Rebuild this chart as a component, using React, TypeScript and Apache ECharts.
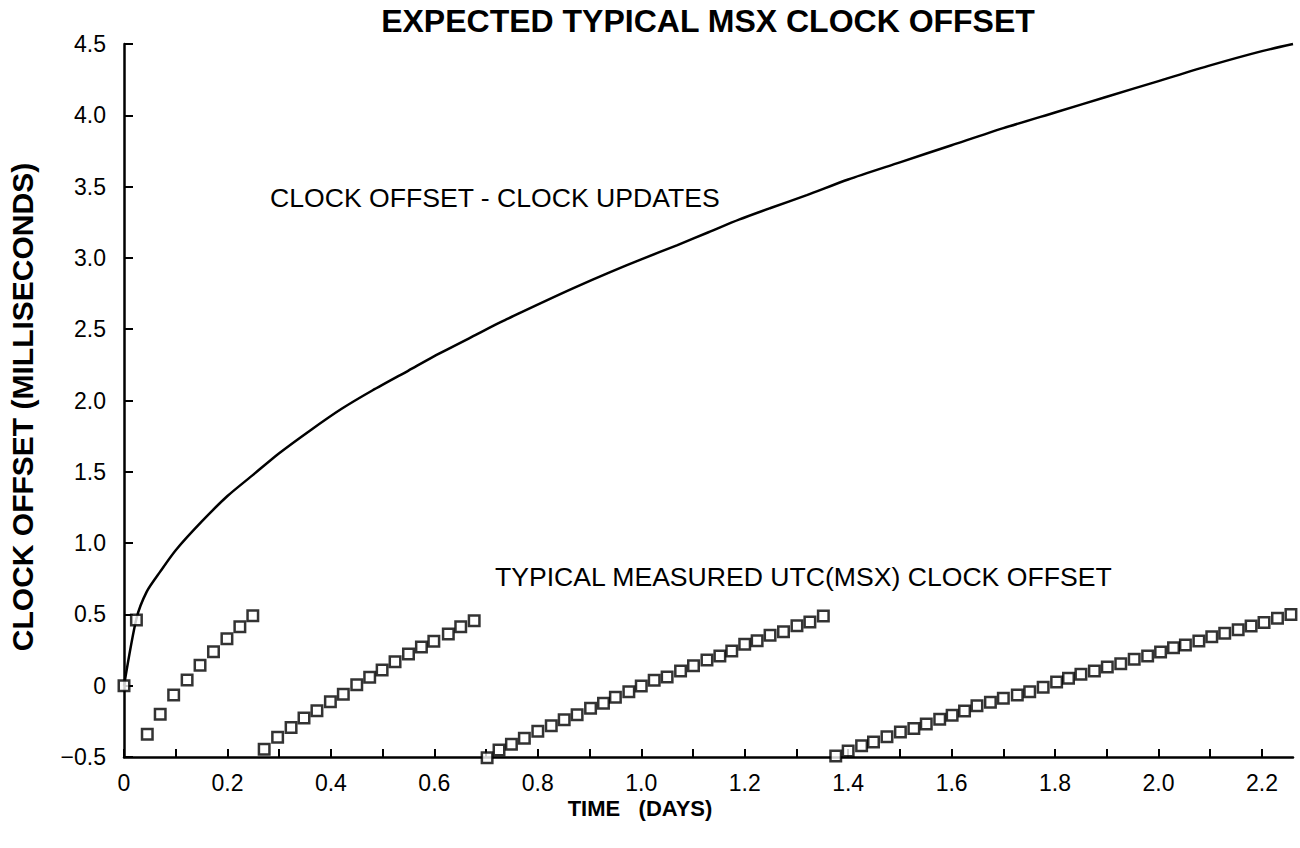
import React, { useEffect, useRef } from "react";
import * as echarts from "echarts";

// Curve: clock offset with clock updates removed
const curveDays = [0, 0.024, 0.044, 0.07, 0.1, 0.15, 0.2, 0.25, 0.3, 0.36, 0.42, 0.48, 0.55, 0.61, 0.68, 0.74, 0.81, 0.87, 0.94, 1.0, 1.07, 1.13, 1.19, 1.25, 1.32, 1.4, 1.5, 1.6, 1.7, 1.8, 1.9, 2.0, 2.1, 2.2, 2.26];
const curveOffset = [0, 0.47, 0.66, 0.8, 0.95, 1.15, 1.33, 1.48, 1.63, 1.79, 1.94, 2.07, 2.21, 2.33, 2.46, 2.57, 2.69, 2.79, 2.9, 2.99, 3.09, 3.18, 3.27, 3.35, 3.44, 3.55, 3.67, 3.79, 3.91, 4.02, 4.13, 4.24, 4.35, 4.45, 4.5];

// Measured UTC(MSX) clock offset (squares)
const measuredDays = [
  0, 0.024,
  0.045, 0.07, 0.096, 0.122, 0.147, 0.173, 0.199, 0.224, 0.249,
  0.271, 0.297, 0.323, 0.348, 0.373, 0.399, 0.424, 0.45, 0.475, 0.499, 0.524, 0.55, 0.575, 0.599, 0.627, 0.651, 0.677,
  0.702, 0.725, 0.749, 0.774, 0.8, 0.826, 0.851, 0.876, 0.902, 0.927, 0.95, 0.976, 1.0, 1.025, 1.05, 1.076, 1.101, 1.127, 1.152, 1.175, 1.2, 1.224, 1.249, 1.275, 1.301, 1.326, 1.352,
  1.376, 1.4, 1.426, 1.449, 1.475, 1.501, 1.527, 1.551, 1.577, 1.601, 1.625, 1.649, 1.675, 1.7, 1.727, 1.751, 1.777, 1.803, 1.826, 1.85, 1.876, 1.901, 1.927, 1.953, 1.979, 2.004, 2.029, 2.052, 2.078, 2.103, 2.128, 2.154, 2.179, 2.204, 2.23, 2.256,
];
const measuredOffset = [
  0, 0.46,
  -0.34, -0.2, -0.065, 0.04, 0.143, 0.238, 0.33, 0.414, 0.49,
  -0.446, -0.362, -0.294, -0.227, -0.175, -0.112, -0.06, 0.007, 0.059, 0.11, 0.168, 0.222, 0.271, 0.311, 0.363, 0.414, 0.456,
  -0.505, -0.451, -0.411, -0.369, -0.32, -0.28, -0.238, -0.203, -0.159, -0.123, -0.081, -0.042, -0.002, 0.038, 0.061, 0.103, 0.14, 0.18, 0.208, 0.243, 0.29, 0.316, 0.353, 0.379, 0.421, 0.447, 0.489,
  -0.493, -0.458, -0.421, -0.395, -0.358, -0.325, -0.301, -0.269, -0.236, -0.208, -0.177, -0.14, -0.116, -0.088, -0.065, -0.042, -0.011, 0.026, 0.052, 0.08, 0.103, 0.131, 0.154, 0.185, 0.208, 0.236, 0.267, 0.285, 0.313, 0.344, 0.367, 0.393, 0.419, 0.444, 0.473, 0.5,
];

// Axis ticks and labels
const xTickValues = [0, 0.1, 0.2, 0.3, 0.4, 0.5, 0.6, 0.7, 0.8, 0.9, 1.0, 1.1, 1.2, 1.3, 1.4, 1.5, 1.6, 1.7, 1.8, 1.9, 2.0, 2.1, 2.2];
const xLabelValues = [0, 0.2, 0.4, 0.6, 0.8, 1.0, 1.2, 1.4, 1.6, 1.8, 2.0, 2.2];
const xLabelTexts = ["0", "0.2", "0.4", "0.6", "0.8", "1.0", "1.2", "1.4", "1.6", "1.8", "2.0", "2.2"];
const yTickLabels = ["\u22120.5", "0", "0.5", "1.0", "1.5", "2.0", "2.5", "3.0", "3.5", "4.0", "4.5"];

const titleText = "EXPECTED TYPICAL MSX CLOCK OFFSET";
const yAxisTitle = "CLOCK OFFSET (MILLISECONDS)";
const xAxisTitle = "TIME   (DAYS)";
const curveNote = "CLOCK OFFSET - CLOCK UPDATES";
const measuredNote = "TYPICAL MEASURED UTC(MSX) CLOCK OFFSET";

const FONT = "'Liberation Sans', Arial, Helvetica, sans-serif";

export default function App() {
  const ref = useRef<HTMLDivElement>(null);
  useEffect(() => {
    document.body.style.margin = "0";
    if (!ref.current) return;
    const chart = echarts.init(ref.current, null, { renderer: "svg" });
    const curveData = curveDays.map((d, i) => [d, curveOffset[i]]);
    const measuredData = measuredDays.map((d, i) => [d, measuredOffset[i]]);
    chart.setOption({
      animation: false,
      backgroundColor: "#ffffff",
      textStyle: { fontFamily: FONT },
      grid: { left: 124, right: 7, top: 44, bottom: 91, containLabel: false },
      xAxis: {
        type: "value",
        min: 0,
        max: 2.26,
        splitLine: { show: false },
        axisLine: { show: true, onZero: false, lineStyle: { color: "#000", width: 2.5 } },
        axisTick: { show: true, inside: true, length: 8, customValues: xTickValues, lineStyle: { color: "#000", width: 2 } },
        axisLabel: {
          customValues: xLabelValues,
          formatter: (v: number) => {
            const i = xLabelValues.findIndex((x) => Math.abs(x - v) < 1e-6);
            return i >= 0 ? xLabelTexts[i] : "";
          },
          color: "#000",
          fontSize: 23,
          margin: 14,
          fontFamily: FONT,
        },
      },
      yAxis: {
        type: "value",
        min: -0.5,
        max: 4.5,
        interval: 0.5,
        splitLine: { show: false },
        axisLine: { show: true, onZero: false, lineStyle: { color: "#000", width: 2.5 } },
        axisTick: { show: true, inside: true, length: 9, lineStyle: { color: "#000", width: 2 } },
        axisLabel: {
          formatter: (v: number) => yTickLabels[Math.round((v + 0.5) / 0.5)] ?? "",
          color: "#000",
          fontSize: 23,
          margin: 18,
          fontFamily: FONT,
        },
      },
      graphic: [
        {
          type: "text",
          x: 708,
          y: 21,
          style: { text: titleText, font: `bold 32px ${FONT}`, fill: "#000", align: "center", verticalAlign: "middle" },
        },
        {
          type: "text",
          x: 22,
          y: 407,
          rotation: Math.PI / 2,
          style: { text: yAxisTitle, font: `bold 30px ${FONT}`, fill: "#000", align: "center", verticalAlign: "middle" },
        },
        {
          type: "text",
          x: 640,
          y: 808,
          style: { text: xAxisTitle, font: `bold 22px ${FONT}`, fill: "#000", align: "center", verticalAlign: "middle", whiteSpace: "pre" },
        },
        {
          type: "text",
          x: 270,
          y: 198,
          style: { text: curveNote, font: `26.6px ${FONT}`, fill: "#000", align: "left", verticalAlign: "middle" },
        },
        {
          type: "text",
          x: 495,
          y: 577,
          style: { text: measuredNote, font: `26.6px ${FONT}`, fill: "#000", align: "left", verticalAlign: "middle" },
        },
      ],
      series: [
        {
          name: "Clock offset - clock updates",
          type: "line",
          data: curveData,
          showSymbol: false,
          smooth: 0.25,
          clip: false,
          lineStyle: { color: "#000", width: 2.5 },
          z: 2,
        },
        {
          name: "Typical measured UTC(MSX) clock offset",
          type: "scatter",
          data: measuredData,
          symbol: "rect",
          symbolSize: 10.5,
          clip: false,
          itemStyle: { color: "#fff", borderColor: "#000", borderWidth: 2.5 },
          z: 3,
        },
      ],
    });
    return () => chart.dispose();
  }, []);
  return <div ref={ref} style={{ width: 1300, height: 848 }} />;
}
